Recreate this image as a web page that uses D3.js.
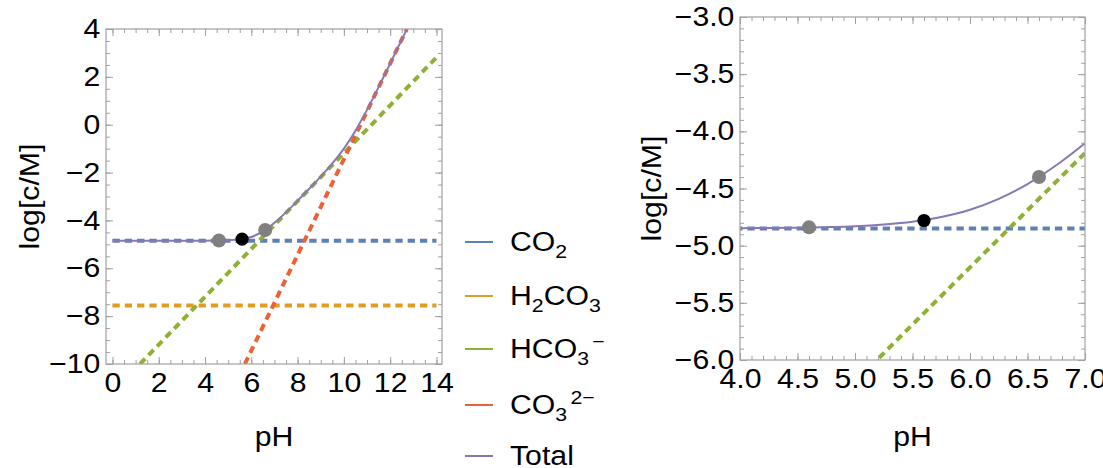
<!DOCTYPE html>
<html>
<head>
<meta charset="utf-8">
<script src="https://cdn.jsdelivr.net/npm/d3@7"></script>
<style>
body { margin: 0; background: #fff; }
text { font-family: "Liberation Sans", Arial, sans-serif; fill: #000; }
</style>
</head>
<body>
<script>
// species lines (end points)
var co2Line = [[0, -4.85], [14, -4.85]];
var h2co3Line = [[0, -7.56], [14, -7.56]];
var hco3Line = [[1.19, -10], [14, 2.81]];
var co3Line = [[5.72, -10], [12.72, 4]];

// total concentration, left panel
var totalPH = [0, 1, 2, 3, 4, 4.5, 5, 5.5, 6, 6.5, 7, 7.5, 8, 8.5, 9, 9.5, 10, 10.5, 11, 11.5, 12, 12.5, 12.75];
var totalLog = [-4.85, -4.85, -4.85, -4.85, -4.85, -4.84, -4.83, -4.79, -4.69, -4.46, -4.10, -3.66, -3.18, -2.68, -2.17, -1.62, -1.00, -0.25, 0.62, 1.57, 2.56, 3.55, 4.05];

// total concentration, zoomed panel
var zoomPH = [4, 4.25, 4.5, 4.75, 5, 5.25, 5.5, 5.75, 6, 6.25, 6.5, 6.75, 7];
var zoomLog = [-4.847, -4.846, -4.843, -4.838, -4.830, -4.815, -4.791, -4.750, -4.686, -4.591, -4.461, -4.297, -4.104];

// marked points
var pointPH = [4.6, 5.6, 6.6];
var pointLog = [-4.84, -4.78, -4.40];
var pointColor = ["#808080", "#000000", "#808080"];

var colors = ["#5e81b5", "#e19c24", "#8fb032", "#eb6235", "#8778b3"];
// legend labels: [text, kind]
var legendLabels = [
  [["CO", ""], ["2", "sub"]],
  [["H", ""], ["2", "sub"], ["CO", ""], ["3", "sub"]],
  [["HCO", ""], ["3", "sub"], ["\u2212", "sup"]],
  [["CO", ""], ["3", "sub"], ["2\u2212", "sup"]],
  [["Total", ""]]
];

var FS = 27;      // font size
var SX = 1.12;    // text is drawn a little wide in the original

var svg = d3.select("body").append("svg")
  .attr("width", 1103)
  .attr("height", 468);

function panel(opt) {
  var x = d3.scaleLinear().domain(opt.xd).range([opt.left, opt.right]);
  var y = d3.scaleLinear().domain(opt.yd).range([opt.bottom, opt.top]);
  var g = svg.append("g");

  g.append("clipPath").attr("id", opt.id)
    .append("rect")
    .attr("x", opt.left).attr("y", opt.top)
    .attr("width", opt.right - opt.left).attr("height", opt.bottom - opt.top);

  var line = d3.line().x(function(d) { return x(d[0]); }).y(function(d) { return y(d[1]); });
  var plot = g.append("g").attr("clip-path", "url(#" + opt.id + ")");

  var dashed = [co2Line, h2co3Line, hco3Line, co3Line];
  dashed.forEach(function(d, i) {
    plot.append("path").attr("d", line(d))
      .attr("fill", "none")
      .attr("stroke", colors[i])
      .attr("stroke-width", 4)
      .attr("stroke-dasharray", "7.3,5");
  });

  var tot = opt.px.map(function(p, i) { return [p, opt.py[i]]; });
  plot.append("path").attr("d", line.curve(d3.curveCatmullRom.alpha(0.5))(tot))
    .attr("fill", "none")
    .attr("stroke", colors[4])
    .attr("stroke-width", 2);

  plot.selectAll("circle").data(pointPH).enter().append("circle")
    .attr("cx", function(d) { return x(d); })
    .attr("cy", function(d, i) { return y(pointLog[i]); })
    .attr("r", function(d, i) { return i == 1 ? 6.6 : 7; })
    .attr("fill", function(d, i) { return pointColor[i]; });

  // frame
  g.append("rect")
    .attr("x", opt.left).attr("y", opt.top)
    .attr("width", opt.right - opt.left).attr("height", opt.bottom - opt.top)
    .attr("fill", "none").attr("stroke", "#a0a0a0").attr("stroke-width", 1.2);

  function ticks(axisFn, scale, values, size, fmt, tr, pad) {
    var a = axisFn(scale).tickValues(values).tickSizeInner(-size).tickSizeOuter(0).tickPadding(pad || 0);
    a.tickFormat(fmt ? fmt : function() { return ""; });
    var ag = g.append("g").attr("transform", tr).call(a);
    ag.select(".domain").remove();
    ag.selectAll("line").attr("stroke", "#a0a0a0").attr("stroke-width", 1);
    ag.selectAll("text").style("font-size", FS + "px")
      .style("font-family", "'Liberation Sans', Arial, sans-serif").attr("fill", "#000")
      .attr("transform", "scale(" + SX + ",1)");
  }

  var xMaj = d3.range(opt.xd0, opt.xd1 + 1e-6, opt.xs);
  var yMaj = d3.range(opt.yd[0], opt.yd[1] + 1e-6, opt.ys);
  var xMin = d3.range(opt.xd0, opt.xd1 + 1e-6, opt.xm);
  var yMin = d3.range(opt.yd[0], opt.yd[1] + 1e-6, opt.ym);

  ticks(d3.axisBottom, x, xMaj, 7, d3.format(opt.fmt), "translate(0," + opt.bottom + ")", 9);
  ticks(d3.axisBottom, x, xMin, 4, null, "translate(0," + opt.bottom + ")");
  ticks(d3.axisTop, x, xMaj, 7, null, "translate(0," + opt.top + ")");
  ticks(d3.axisTop, x, xMin, 4, null, "translate(0," + opt.top + ")");
  ticks(d3.axisLeft, y, yMaj, 7, d3.format(opt.fmt), "translate(" + opt.left + ",0)", 5);
  ticks(d3.axisLeft, y, yMin, 4, null, "translate(" + opt.left + ",0)");
  ticks(d3.axisRight, y, yMaj, 7, null, "translate(" + opt.right + ",0)");
  ticks(d3.axisRight, y, yMin, 4, null, "translate(" + opt.right + ",0)");

  // axis labels
  g.append("text")
    .attr("transform", "translate(" + (opt.left + opt.right) / 2 + ",446) scale(" + SX + ",1)")
    .attr("text-anchor", "middle").style("font-size", FS + "px")
    .text("pH");
  g.append("text")
    .attr("transform", "translate(" + opt.ylx + "," + (opt.top + opt.bottom) / 2 + ") rotate(-90) scale(" + SX + ",1)")
    .attr("text-anchor", "middle").style("font-size", FS + "px")
    .text("log[c/M]");
}

panel({
  id: "clipA", left: 106, right: 442, top: 29, bottom: 364,
  xd: [-0.28, 14.24], yd: [-10, 4], xd0: 0, xd1: 14, xs: 2, xm: 0.5, ys: 2, ym: 0.5,
  fmt: "d", px: totalPH, py: totalLog, ylx: 39
});

panel({
  id: "clipB", left: 740, right: 1085, top: 17, bottom: 360,
  xd: [4, 7], yd: [-6, -3], xd0: 4, xd1: 7, xs: 0.5, xm: 0.1, ys: 0.5, ym: 0.1,
  fmt: ".1f", px: zoomPH, py: zoomLog, ylx: 661
});

// legend
var legendY = [242, 296, 349, 405, 456];
var lg = svg.append("g");
legendLabels.forEach(function(parts, i) {
  lg.append("line")
    .attr("x1", 465).attr("x2", 493)
    .attr("y1", legendY[i]).attr("y2", legendY[i])
    .attr("stroke", colors[i]).attr("stroke-width", 2);
  var t = lg.append("text")
    .attr("transform", "translate(510," + (legendY[i] + 9) + ") scale(" + SX + ",1)")
    .style("font-size", FS + "px");
  var shift = 0;
  parts.forEach(function(p) {
    var s = t.append("tspan").text(p[0]);
    var target = 0;
    if (p[1] == "sub") { target = 7; s.style("font-size", "19px"); }
    if (p[1] == "sup") { target = -10; s.style("font-size", "19px"); s.attr("dx", 3); }
    s.attr("dy", target - shift);
    shift = target;
  });
});
</script>
</body>
</html>
